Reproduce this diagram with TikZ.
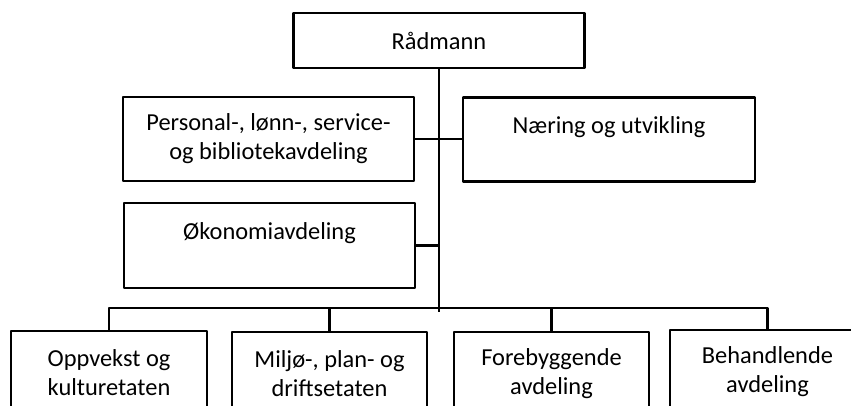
\documentclass[tikz,border=0pt]{standalone}
\usepackage{fontspec}
\setmainfont{Carlito}
\begin{document}
\begin{tikzpicture}[x=0.75pt,y=-0.75pt,line join=round,
	box/.style={draw,line width=1.8pt,align=center,inner sep=0pt,
		font=\fontsize{18.3}{21.75}\selectfont},
	link/.style={line width=1.8pt}]
	\useasboundingbox (0,0) rectangle (851,405);
	\clip (0,0) rectangle (851,405);
	
	\node[box,minimum width=218.25pt,minimum height=41.25pt] (R) at (439,40.5) {Rådmann};
	
	\node[box,minimum width=218.25pt,minimum height=63pt] (P) at (268.5,139) {Personal-, lønn-, service-\\og bibliotekavdeling};
	\node[box,minimum width=219pt,minimum height=63pt] (N) at (609,139.5) {Næring og utvikling\\~};
	\node[box,minimum width=218.25pt,minimum height=63.75pt] (K) at (269.5,245.5) {Økonomiavdeling\\~};
	
	\node[box,minimum width=147pt,minimum height=63pt] (E) at (109,373) {Oppvekst og\\kulturetaten};
	\node[box,minimum width=146.25pt,minimum height=63pt] (F) at (329.5,374) {Miljø-, plan- og\\driftsetaten};
	\node[box,minimum width=146.25pt,minimum height=63pt] (G) at (551.5,374) {Forebyggende\\avdeling};
	\node[box,minimum width=146.25pt,minimum height=63pt] (H) at (767.5,372) {Behandlende\\avdeling};
	
	\coordinate (S) at (439,308);
	\coordinate (T) at (439,312);
	
	\draw[link] (R.south)--(T);
	\draw[link] (P.east)--(P.east -| N.west);
	\draw[link] (K.east)--(K.east -| S);
	\draw[link] (E.north) |- (S) -| (H.north);
	\draw[link] (F.north)--(F.north |- S) (G.north)--(G.north |- S);
\end{tikzpicture}
\end{document}
